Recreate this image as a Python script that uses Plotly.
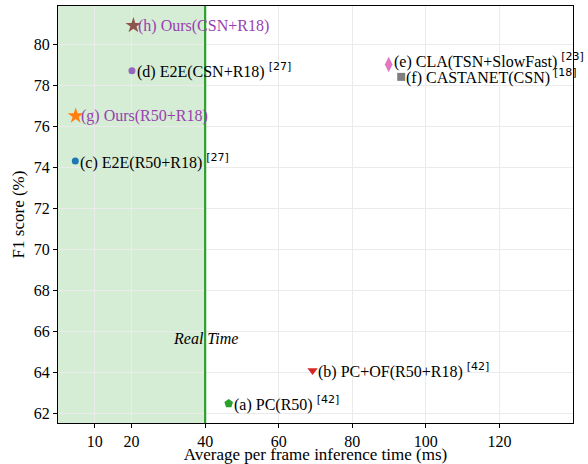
import plotly.graph_objects as go

labels = ["(a) PC(R50)", "(b) PC+OF(R50+R18)", "(c) E2E(R50+R18)", "(d) E2E(CSN+R18)",
          "(e) CLA(TSN+SlowFast)", "(f) CASTANET(CSN)", "(g) Ours(R50+R18)", "(h) Ours(CSN+R18)"]
refs = ["[42]", "[42]", "[27]", "[27]", "[23]", "[18]", "", ""]
times = [46.4, 69.2, 4.7, 20.1, 89.9, 93.3, 4.8, 20.5]
f1 = [62.5, 64.1, 74.3, 78.7, 79.0, 78.4, 76.5, 80.9]
colors = ["#2ca02c", "#d62728", "#1f77b4", "#9467bd", "#e377c2", "#7f7f7f", "#ff7f0e", "#8c564b"]
symbols = ["pentagon", "triangle-down", "circle", "circle", "diamond-tall", "square", "star", "star"]
sizes = [9, 9, 7, 7, 11, 8, 12, 12]
label_colors = ["black"] * 6 + ["#9a3fb0", "#9a3fb0"]
label_yshift = [0, 0, 0, 0, 4, 0, 0, 0]

x_ticks = [10, 20, 40, 60, 80, 100, 120]
y_ticks = [62, 64, 66, 68, 70, 72, 74, 76, 78, 80]
real_time = 40

serif = "Liberation Serif"

fig = go.Figure()
for i in range(len(labels)):
    fig.add_trace(go.Scatter(
        x=[times[i]], y=[f1[i]], mode="markers",
        marker=dict(symbol=symbols[i], color=colors[i], size=sizes[i], line=dict(width=0)),
        showlegend=False, hoverinfo="skip"))
    txt = labels[i]
    if refs[i]:
        txt += " <sup><span style='font-family:DejaVu Sans;font-size:11px'>" + refs[i] + "</span></sup>"
    fig.add_annotation(x=times[i], y=f1[i], text=txt, showarrow=False,
                       xanchor="left", yanchor="middle", xshift=3, yshift=label_yshift[i],
                       font=dict(family=serif, size=16, color=label_colors[i]))

fig.add_shape(type="rect", xref="x", yref="paper", x0=0, x1=real_time, y0=0, y1=1,
              fillcolor="rgba(44,160,44,0.2)", line=dict(width=0), layer="below")
fig.add_shape(type="line", xref="x", yref="paper", x0=real_time, x1=real_time, y0=0, y1=1,
              line=dict(color="#2ca02c", width=2.2))
fig.add_annotation(x=real_time, y=65.65, text="<i>Real Time</i>", showarrow=False,
                   xanchor="center", yanchor="middle",
                   font=dict(family=serif, size=16, color="black"))

fig.update_layout(
    width=588, height=464,
    margin=dict(l=58, r=15, t=6, b=41),
    plot_bgcolor="white", paper_bgcolor="white",
    font=dict(family=serif, size=16, color="black"),
    xaxis=dict(range=[0, 140], tickvals=x_ticks, showgrid=True, gridcolor="#ebebeb", gridwidth=1,
               zeroline=False, showline=True, linecolor="black", linewidth=1.2, mirror=True,
               ticks="outside", ticklen=4, tickcolor="black", automargin=False,
               title=dict(text="Average per frame inference time (ms)", font=dict(size=17), standoff=2)),
    yaxis=dict(range=[61.55, 81.85], tickvals=y_ticks, showgrid=True, gridcolor="#ebebeb", gridwidth=1,
               zeroline=False, showline=True, linecolor="black", linewidth=1.2, mirror=True,
               ticks="outside", ticklen=4, tickcolor="black", automargin=False,
               title=dict(text="F1 score (%)", font=dict(size=17), standoff=4)),
)

fig.write_html("out.html", config={"displayModeBar": False},
               post_script="document.body.style.margin='0';")
